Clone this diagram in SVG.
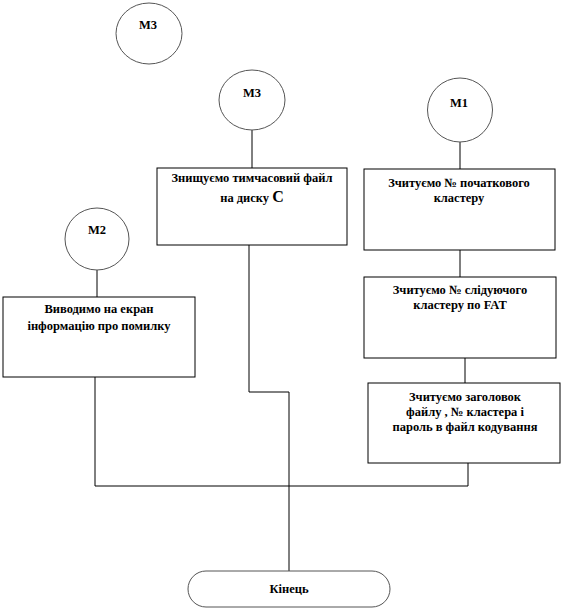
<svg xmlns="http://www.w3.org/2000/svg" width="564" height="610" viewBox="0 0 564 610" font-family="Liberation Serif, Times New Roman, DejaVu Serif, serif">
<style>
.c{fill:#fff;stroke:#555;stroke-width:1}
.b{fill:#fff;stroke:#000;stroke-width:1}
.t{font-weight:bold;font-size:12.5px;text-anchor:middle;fill:#000}
.l{stroke:#000;stroke-width:1;fill:none}
</style>
<rect width="564" height="610" fill="#fff"/>
<g id="connectors">
<path class="l" d="M252,130V168"/>
<path class="l" d="M460,142V169"/>
<path class="l" d="M97,270V297"/>
<path class="l" d="M460,250V277"/>
<path class="l" d="M465,358V383"/>
<path class="l" d="M249,245V392H289"/>
<path class="l" d="M289,392V571"/>
<path class="l" d="M95,377V486H468V463"/>
</g>
<g id="m3top"><ellipse class="c" cx="149" cy="33.5" rx="33" ry="30.5"/><text class="t" x="148" y="29">М3</text></g>
<g id="m3"><ellipse class="c" cx="252" cy="100" rx="33" ry="30"/><text class="t" x="252" y="97">М3</text></g>
<g id="m1"><ellipse class="c" cx="460" cy="110" rx="32.5" ry="32"/><text class="t" x="459" y="107">М1</text></g>
<g id="m2"><ellipse class="c" cx="97" cy="239" rx="32" ry="31"/><text class="t" x="97" y="234">М2</text></g>
<g id="delete"><rect class="b" x="157" y="168" width="190" height="77"/><text class="t" x="252" y="182">Знищуємо тимчасовий файл</text><text class="t" x="252" y="202">на диску <tspan font-size="16">С</tspan></text></g>
<g id="first"><rect class="b" x="364" y="169" width="191" height="81"/><text class="t" x="459" y="187">Зчитуємо № початкового</text><text class="t" x="459" y="202">кластеру</text></g>
<g id="error"><rect class="b" x="3" y="297" width="192" height="80"/><text class="t" x="99" y="313">Виводимо на екран</text><text class="t" x="99" y="330">інформацію про помилку</text></g>
<g id="next"><rect class="b" x="364" y="277" width="192" height="81"/><text class="t" x="460" y="294">Зчитуємо № слідуючого</text><text class="t" x="460" y="309">кластеру по FAT</text></g>
<g id="header"><rect class="b" x="368" y="383" width="192" height="80"/><text class="t" x="465" y="401">Зчитуємо заголовок</text><text class="t" x="465" y="416">файлу , № кластера і</text><text class="t" x="465" y="431">пароль в файл кодування</text></g>
<g id="end"><rect class="c" x="188" y="571" width="202" height="36" rx="18" ry="18"/><text class="t" x="289" y="593">Кінець</text></g>
</svg>
